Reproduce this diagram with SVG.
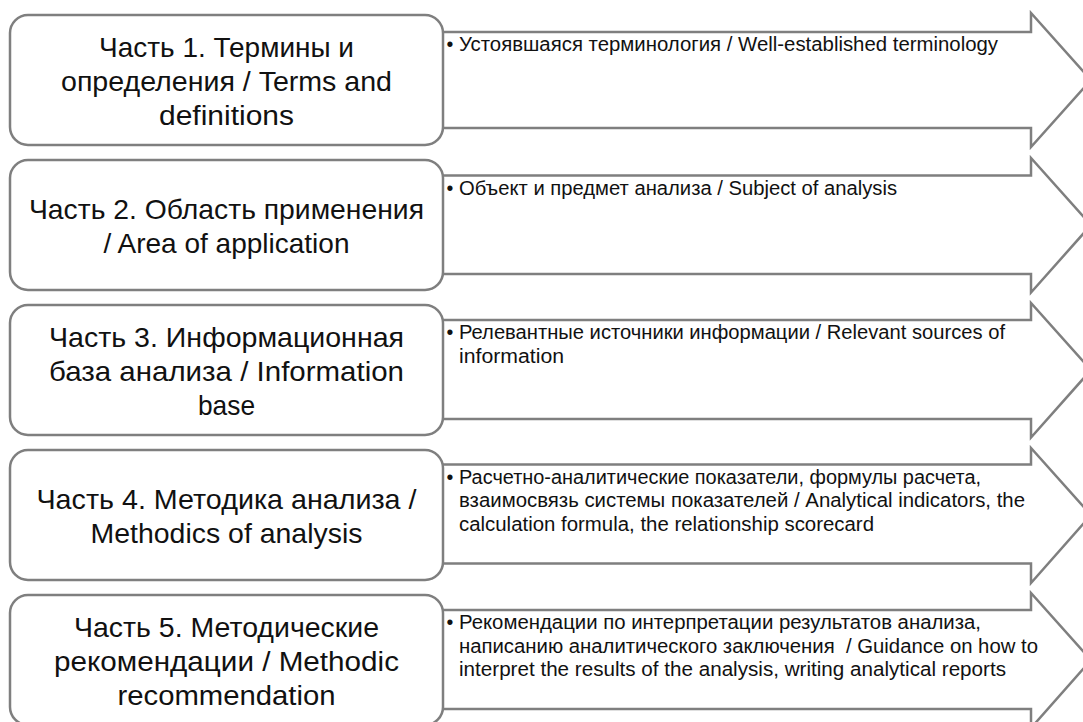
<svg xmlns="http://www.w3.org/2000/svg" width="1083" height="722" viewBox="0 0 1083 722">
<style>
.box{fill:#fff;stroke:#7f7f7f;stroke-width:2.5}
.arr{fill:#fff;stroke:#7f7f7f;stroke-width:2.5;stroke-linejoin:miter}
.lt{font-family:"Liberation Sans","Noto Sans","DejaVu Sans",sans-serif;font-size:27.5px;fill:#111;text-anchor:middle}
.rt{font-family:"Liberation Sans","Noto Sans","DejaVu Sans",sans-serif;font-size:19.5px;fill:#111}
.bl{font-family:"Liberation Sans","Noto Sans","DejaVu Sans",sans-serif;font-size:19.5px;fill:#111;text-anchor:middle}
</style>
<rect width="1083" height="722" fill="#fff"/>
<g id="connectors"></g>

<g id="part1">
<polygon class="arr" points="440,32 1031,32 1031,13 1091,80 1031,147 1031,128 440,128"/>
<rect class="box" x="10" y="15" width="433" height="130" rx="18"/>
<text class="lt" x="226.5" y="57" textLength="255" lengthAdjust="spacingAndGlyphs">Часть 1. Термины и</text>
<text class="lt" x="226.5" y="91" textLength="331" lengthAdjust="spacingAndGlyphs">определения / Terms and</text>
<text class="lt" x="226.5" y="125" textLength="135" lengthAdjust="spacingAndGlyphs">definitions</text>
<text class="bl" x="450" y="51">•</text>
<text class="rt" x="459" y="51" textLength="539" lengthAdjust="spacingAndGlyphs">Устоявшаяся терминология / Well-established terminology</text>
</g>

<g id="part2">
<polygon class="arr" points="440,175.5 1031,175.5 1031,158 1091,225 1031,292.5 1031,274 440,274"/>
<rect class="box" x="10" y="160" width="433" height="130" rx="18"/>
<text class="lt" x="226.5" y="218.5" textLength="395" lengthAdjust="spacingAndGlyphs">Часть 2. Область применения</text>
<text class="lt" x="226.5" y="252.5" textLength="246" lengthAdjust="spacingAndGlyphs">/ Area of application</text>
<text class="bl" x="450" y="194.5">•</text>
<text class="rt" x="459" y="194.5" textLength="438" lengthAdjust="spacingAndGlyphs">Объект и предмет анализа / Subject of analysis</text>
</g>

<g id="part3">
<polygon class="arr" points="440,320 1031,320 1031,303 1091,370 1031,437.5 1031,419 440,419"/>
<rect class="box" x="10" y="305" width="433" height="130" rx="18"/>
<text class="lt" x="226.5" y="347" textLength="355" lengthAdjust="spacingAndGlyphs">Часть 3. Информационная</text>
<text class="lt" x="226.5" y="381" textLength="355" lengthAdjust="spacingAndGlyphs">база анализа / Information</text>
<text class="lt" x="226.5" y="415" textLength="57" lengthAdjust="spacingAndGlyphs">base</text>
<text class="bl" x="450" y="339">•</text>
<text class="rt" x="459" y="339" textLength="546" lengthAdjust="spacingAndGlyphs">Релевантные источники информации / Relevant sources of</text>
<text class="rt" x="459" y="362.5" textLength="105" lengthAdjust="spacingAndGlyphs">information</text>
</g>

<g id="part4">
<polygon class="arr" points="440,464.5 1031,464.5 1031,448 1091,515 1031,583 1031,563.5 440,563.5"/>
<rect class="box" x="10" y="450" width="433" height="130" rx="18"/>
<text class="lt" x="226.5" y="508.5" textLength="380" lengthAdjust="spacingAndGlyphs">Часть 4. Методика анализа /</text>
<text class="lt" x="226.5" y="542.5" textLength="272" lengthAdjust="spacingAndGlyphs">Methodics of analysis</text>
<text class="bl" x="450" y="483.5">•</text>
<text class="rt" x="459" y="483.5" textLength="522" lengthAdjust="spacingAndGlyphs">Расчетно-аналитические показатели, формулы расчета,</text>
<text class="rt" x="459" y="507" textLength="566" lengthAdjust="spacingAndGlyphs">взаимосвязь системы показателей / Analytical indicators, the</text>
<text class="rt" x="459" y="530.5" textLength="415" lengthAdjust="spacingAndGlyphs">calculation formula, the relationship scorecard</text>
</g>

<g id="part5">
<polygon class="arr" points="440,610 1031,610 1031,593 1091,660 1031,728 1031,709 440,709"/>
<rect class="box" x="10" y="595" width="433" height="130" rx="18"/>
<text class="lt" x="226.5" y="637" textLength="305" lengthAdjust="spacingAndGlyphs">Часть 5. Методические</text>
<text class="lt" x="226.5" y="671" textLength="345" lengthAdjust="spacingAndGlyphs">рекомендации / Methodic</text>
<text class="lt" x="226.5" y="705" textLength="218" lengthAdjust="spacingAndGlyphs">recommendation</text>
<text class="bl" x="450" y="629">•</text>
<text class="rt" x="459" y="629" textLength="522" lengthAdjust="spacingAndGlyphs">Рекомендации по интерпретации результатов анализа,</text>
<text class="rt" x="459" y="652.5" textLength="579" lengthAdjust="spacingAndGlyphs" style="white-space:pre">написанию аналитического заключения  / Guidance on how to</text>
<text class="rt" x="459" y="676" textLength="547" lengthAdjust="spacingAndGlyphs">interpret the results of the analysis, writing analytical reports</text>
</g>
</svg>
